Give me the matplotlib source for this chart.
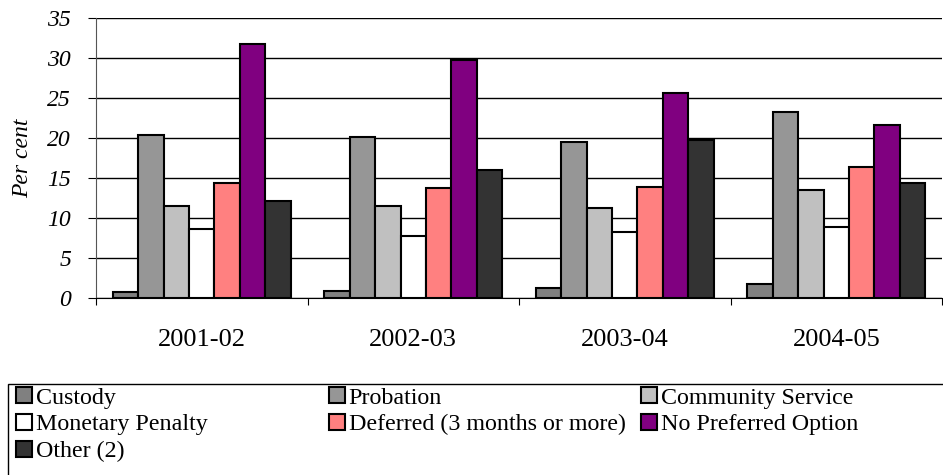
import matplotlib.pyplot as plt
import numpy as np
from matplotlib.patches import Rectangle

years = ["2001-02", "2002-03", "2003-04", "2004-05"]
series = [
    "Custody",
    "Probation",
    "Community Service",
    "Monetary Penalty",
    "Deferred (3 months or more)",
    "No Preferred Option",
    "Other (2)",
]
custody = [0.7, 0.9, 1.2, 1.7]
probation = [20.4, 20.1, 19.5, 23.2]
community = [11.5, 11.5, 11.3, 13.5]
monetary = [8.6, 7.8, 8.3, 8.9]
deferred = [14.4, 13.7, 13.9, 16.4]
no_pref = [31.8, 29.7, 25.6, 21.6]
other = [12.1, 16.0, 19.8, 14.4]
colors = ["#808080", "#969696", "#C0C0C0", "#FFFFFF", "#FF8080", "#800080", "#333333"]

plt.rcParams["font.family"] = ["Liberation Serif", "DejaVu Serif"]

fig = plt.figure(figsize=(9.43, 4.75), dpi=100)
ax = fig.add_axes([96 / 943, 1 - 298 / 475, 846 / 943, 280 / 475])

values = [custody, probation, community, monetary, deferred, no_pref, other]
x = np.arange(len(years)) + 0.5
w = 0.12
bars = []
for i, (vals, c) in enumerate(zip(values, colors)):
    b = ax.bar(x + (i - 3) * w, vals, w, color=c, edgecolor="black", linewidth=1.5,
               label=series[i], zorder=3)
    bars.append(b)

ax.set_xlim(0, len(years))
ax.set_ylim(0, 35)
ax.set_yticks(np.arange(0, 36, 5))
ax.set_yticklabels([str(v) for v in range(0, 36, 5)], fontstyle="italic", fontsize=17)
ax.yaxis.grid(True, color="black", linewidth=1)
ax.set_axisbelow(True)
ax.set_ylabel("Per cent", fontstyle="italic", fontsize=17, labelpad=10)

ax.set_xticks(np.arange(0, len(years) + 1))
ax.set_xticklabels([])
ax.set_xticks(x, minor=True)
ax.set_xticklabels(years, minor=True, fontsize=19)
ax.tick_params(axis="x", which="minor", length=0, pad=22)
ax.tick_params(axis="x", which="major", length=5, color="black")
ax.tick_params(axis="y", length=6, pad=12)
for s in ["top", "right"]:
    ax.spines[s].set_visible(False)
ax.spines["left"].set_color("#555555")
ax.spines["bottom"].set_color("black")

# legend box (runs off the right and bottom edge)
fig.patches.append(Rectangle((8 / 943, -0.05), 1.0, 1 - 384 / 475 + 0.05,
                             transform=fig.transFigure, facecolor="white",
                             edgecolor="black", linewidth=1))
cols = [[0, 3, 6], [1, 4], [2, 5]]
col_x = [16 / 943, 329 / 943, 641 / 943]
for idx, cx in zip(cols, col_x):
    fig.legend([bars[i] for i in idx], [series[i] for i in idx],
               loc="upper left", bbox_to_anchor=(cx, 1 - 387 / 475),
               frameon=False, fontsize=17.3, handlelength=0.67, handleheight=0.67,
               handletextpad=0.15, labelspacing=0.22, borderpad=0, borderaxespad=0)

fig.savefig("out.png", dpi=100)
